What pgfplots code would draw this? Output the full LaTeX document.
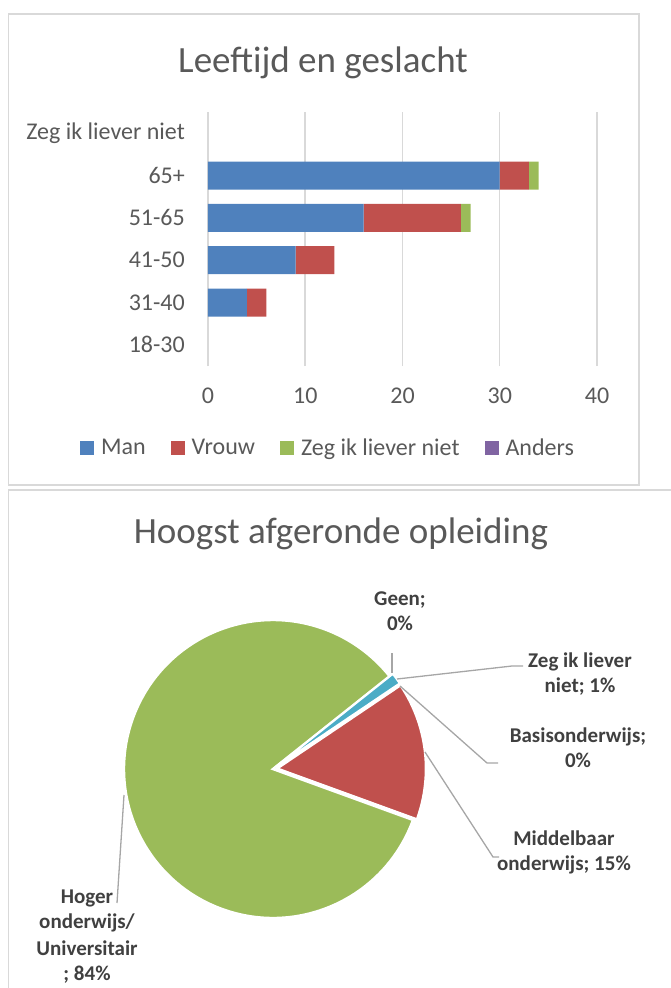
\documentclass[border=0pt]{standalone}
\usepackage{fontspec}
\setmainfont{Carlito}
\usepackage{pgfplots}
\pgfplotsset{compat=1.18}
\usepackage{pgfplotstable}
\definecolor{cMan}{HTML}{4F81BD}
\definecolor{cVrouw}{HTML}{C0504D}
\definecolor{cZeg}{HTML}{9BBB59}
\definecolor{cAnders}{HTML}{8064A2}
\definecolor{cLBlue}{HTML}{4BACC6}
\definecolor{cFrame}{HTML}{D9D9D9}
\definecolor{cGrid}{HTML}{D9D9D9}
\definecolor{cText}{HTML}{595959}
\definecolor{cLab}{HTML}{404040}
\definecolor{cLead}{HTML}{A6A6A6}

% age group (0=18-30 ... 5=Zeg ik liever niet) and counts per gender
\pgfplotstableread{
cat man vrouw zeg anders
0   0   0     0   0
1   4   2     0   0
2   9   4     0   0
3   16  10    1   0
4   30  3     1   0
5   0   0     0   0
}\agetable

% education counts (pie)
\newcommand\pGeen{0}
\newcommand\pZeg{1}
\newcommand\pBasis{0}
\newcommand\pMid{12}
\newcommand\pHoger{67}

\begin{document}
\begin{tikzpicture}
\pgfmathsetmacro\pTot{\pGeen+\pZeg+\pBasis+\pMid+\pHoger}
\pgfmathsetmacro\aA{38.5}
\pgfmathsetmacro\aB{\aA-360*((\pGeen+\pZeg)/\pTot)}
\pgfmathsetmacro\aC{\aB-360*((\pBasis+\pMid)/\pTot)}
\pgfmathsetmacro\aD{\aC-360*(\pHoger/\pTot)}
\pgfmathsetmacro\aMid{(\aB+\aC)/2}
\pgfmathsetmacro\aBl{(\aA+\aB)/2}

\path[use as bounding box] (0pt,0pt) rectangle (670pt,-988pt);
\draw[cFrame, line width=1.5pt] (8.5pt,-14pt) rectangle (639pt,-485pt);
\draw[cFrame, line width=1.5pt] (8.5pt,-1000pt) -- (8.5pt,-490pt) -- (690pt,-490pt);

\node[anchor=base, text=cText, font=\fontsize{37}{41}\selectfont, inner sep=0pt] at (323pt,-72pt) {Leeftijd en geslacht};
\node[anchor=base, text=cText, font=\fontsize{37}{41}\selectfont, inner sep=0pt] at (341pt,-543pt) {Hoogst afgeronde opleiding};

\begin{axis}[
  at={(208pt,-366pt)}, anchor=south west,
  scale only axis, width=389pt, height=254pt,
  xmin=0, xmax=40, ymin=-0.5, ymax=5.5,
  xbar stacked, bar width=28pt,
  axis line style={draw=none},
  major tick length=0pt,
  xmajorgrids, grid style={cGrid, line width=1.5pt},
  xtick={0,10,20,30,40},
  ytick={0,1,2,3,4,5},
  yticklabels={18-30,31-40,41-50,51-65,65+,Zeg ik liever niet},
  /pgf/number format/assume math mode=true,
  tick label style={font=\fontsize{24}{28}\selectfont, text=cText},
  yticklabel style={inner sep=0pt, anchor=east, xshift=-23pt},
  xticklabel style={inner sep=0pt, anchor=north, yshift=-22pt},
  legend columns=4,
  legend style={at={(0.3085,-0.3228)}, anchor=center, draw=none, fill=none,
    font=\fontsize{24}{28}\selectfont, text=cText, inner sep=0pt,
    /tikz/every odd column/.append style={column sep=5pt},
    /tikz/every even column/.append style={column sep=23pt}},
  legend image code/.code={\fill[#1] (0pt,-7pt) rectangle (14pt,7pt);},
  clip=false,
]
\addplot[fill=cMan, draw=none] table[x=man, y=cat] {\agetable};
\addlegendentry{Man}
\addplot[fill=cVrouw, draw=none] table[x=vrouw, y=cat] {\agetable};
\addlegendentry{Vrouw}
\addplot[fill=cZeg, draw=none] table[x=zeg, y=cat] {\agetable};
\addlegendentry{Zeg ik liever niet}
\addplot[fill=cAnders, draw=none] table[x=anders, y=cat] {\agetable};
\addlegendentry{Anders}
\end{axis}

\begin{axis}[
  at={(273pt,-769pt)}, anchor=center,
  scale only axis, width=298pt, height=298pt,
  xmin=-1, xmax=1, ymin=-1, ymax=1,
  hide axis, clip=false,
]
\filldraw[fill=cZeg, draw=white, line width=2.5pt, line join=miter]
  (axis cs:0,0) -- ++(\aC:149pt) arc[start angle=\aC, end angle=\aD, radius=149pt] -- cycle;
\filldraw[fill=cVrouw, draw=white, line width=2.5pt, line join=miter]
  (axis cs:0,0) ++(\aMid:4pt) -- ++(\aB:149pt) arc[start angle=\aB, end angle=\aC, radius=149pt] -- cycle;
\filldraw[fill=cLBlue, draw=white, line width=2pt, line join=miter]
  (axis cs:0,0) ++(\aBl:3pt) -- ++(\aA:150pt) arc[start angle=\aA, end angle=\aB, radius=150pt] -- cycle;
\end{axis}

% leader lines
\begin{scope}[cLead, line width=1.3pt]
\draw (392pt,-653pt) -- (392pt,-673pt);
\draw (397pt,-679pt) -- (512pt,-666pt) -- (523pt,-666pt);
\draw (400pt,-686pt) -- (487pt,-763pt) -- (498pt,-763pt);
\draw (425pt,-752pt) -- (493pt,-857pt) -- (499pt,-857pt);
\draw (124pt,-795pt) -- (117pt,-903pt);
\end{scope}

% data labels
\begin{scope}[every node/.style={anchor=base, inner sep=0pt, text=cLab, font=\fontsize{21}{25}\selectfont\bfseries}]
\node at (400pt,-605pt) {Geen;};
\node at (400pt,-630pt) {0\%};
\node at (580pt,-667pt) {Zeg ik liever};
\node at (580pt,-692pt) {niet; 1\%};
\node at (578pt,-742pt) {Basisonderwijs;};
\node at (578pt,-767pt) {0\%};
\node at (564pt,-845pt) {Middelbaar};
\node at (564pt,-870pt) {onderwijs; 15\%};
\node at (87pt,-903pt) {Hoger};
\node at (87pt,-928pt) {onderwijs/};
\node at (87pt,-955pt) {Universitair};
\node at (87pt,-980pt) {; 84\%};
\end{scope}
\end{tikzpicture}
\end{document}
